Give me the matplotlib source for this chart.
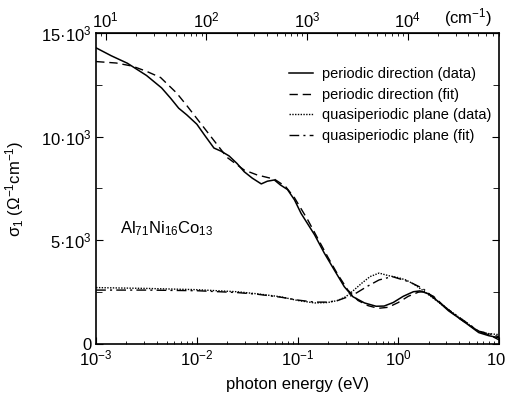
"""Optische Leitfähigkeit von Al71Ni16Co13 (periodisch / quasiperiodisch)."""

import matplotlib.pyplot as plt
import numpy as np

plt.rcParams["font.family"] = ["Liberation Sans", "DejaVu Sans"]
plt.rcParams["mathtext.fontset"] = "custom"
plt.rcParams["mathtext.rm"] = "Liberation Sans"
plt.rcParams["mathtext.it"] = "Liberation Sans:italic"

EV_TO_CM = 8065.5

# periodic direction (data): log10(E/eV), sigma in 10^3 / Ohm cm
per_data_logE = [-3.0, -2.85, -2.69, -2.5, -2.35, -2.26, -2.18, -2.1, -2.0, -1.92,
                 -1.83, -1.76, -1.68, -1.6, -1.53, -1.45, -1.36, -1.3, -1.23, -1.17,
                 -1.1, -1.03, -0.965, -0.9, -0.83, -0.735, -0.635, -0.535, -0.45,
                 -0.335, -0.22, -0.14, -0.05, 0.05, 0.15, 0.215, 0.3, 0.4, 0.5,
                 0.63, 0.8, 0.9, 1.0]
per_data_sig = [14.28, 13.9, 13.54, 12.95, 12.35, 11.85, 11.37, 11.05, 10.6, 10.05,
                9.45, 9.3, 9.07, 8.7, 8.31, 8.0, 7.72, 7.85, 7.91, 7.67,
                7.45, 6.95, 6.3, 5.8, 5.26, 4.39, 3.57, 2.76, 2.28,
                1.98, 1.82, 1.83, 2.0, 2.3, 2.52, 2.56, 2.42, 2.04, 1.6,
                1.16, 0.55, 0.4, 0.3]

# periodic direction (fit)
per_fit_logE = [-3.0, -2.8, -2.64, -2.5, -2.36, -2.2, -2.1, -1.98, -1.86, -1.7,
                -1.53, -1.4, -1.23, -1.12, -1.03, -0.9, -0.8, -0.7, -0.6, -0.5,
                -0.4, -0.3, -0.2, -0.1, 0.0, 0.1, 0.2, 0.25, 0.35, 0.45,
                0.6, 0.8, 0.9, 1.0]
per_fit_sig = [13.62, 13.55, 13.4, 13.15, 12.85, 12.1, 11.5, 10.75, 10.0, 9.0,
               8.39, 8.15, 7.95, 7.6, 7.05, 6.0, 5.1, 4.2, 3.35, 2.6,
               2.1, 1.85, 1.72, 1.77, 2.0, 2.3, 2.5, 2.52, 2.3, 1.85,
               1.25, 0.6, 0.45, 0.2]

# quasiperiodic plane (data)
qp_data_logE = [-3.0, -2.5, -2.0, -1.6, -1.4, -1.17, -1.0, -0.83, -0.7, -0.6,
                -0.52, -0.44, -0.36, -0.28, -0.19, -0.1, 0.0, 0.075, 0.15, 0.24,
                0.35, 0.5, 0.63, 0.8, 0.9, 1.0]
qp_data_sig = [2.72, 2.68, 2.62, 2.52, 2.42, 2.28, 2.1, 1.98, 2.0, 2.1,
               2.28, 2.6, 2.94, 3.25, 3.42, 3.3, 3.2, 3.09, 2.9, 2.6,
               2.2, 1.65, 1.2, 0.6, 0.5, 0.45]

# quasiperiodic plane (fit)
qp_fit_logE = [-3.0, -2.5, -2.0, -1.6, -1.4, -1.17, -1.0, -0.83, -0.7, -0.6,
               -0.45, -0.3, -0.19, -0.06, 0.11, 0.24, 0.35, 0.5, 0.63, 0.8,
               0.9, 1.0]
qp_fit_sig = [2.6, 2.6, 2.57, 2.48, 2.4, 2.26, 2.12, 2.02, 2.02, 2.1,
              2.36, 2.8, 3.09, 3.25, 3.0, 2.69, 2.25, 1.65, 1.2, 0.62,
              0.5, 0.35]

y_ticks = [0, 5000, 10000, 15000]
y_tick_labels = ["0", "5·10$^3$", "10·10$^3$", "15·10$^3$"]


def to_xy(logE, sig):
    """log10(E) und sigma (10^3) in Plotkoordinaten umrechnen."""
    return 10 ** np.array(logE), np.array(sig) * 1000


fig = plt.figure(figsize=(5.06, 3.97), dpi=100)
ax = fig.add_axes([0.19, 0.1335, 0.796, 0.7835])

x, y = to_xy(per_data_logE, per_data_sig)
ax.plot(x, y, color="k", lw=1.1, ls="-", label="periodic direction (data)")
x, y = to_xy(per_fit_logE, per_fit_sig)
ax.plot(x, y, color="k", lw=1.0, ls=(0, (6, 3.5)), label="periodic direction (fit)")
x, y = to_xy(qp_data_logE, qp_data_sig)
ax.plot(x, y, color="k", lw=1.0, ls=(0, (1, 1)), label="quasiperiodic plane (data)")
x, y = to_xy(qp_fit_logE, qp_fit_sig)
ax.plot(x, y, color="k", lw=1.0, ls=(0, (7, 3, 1.5, 3)), label="quasiperiodic plane (fit)")

ax.set_xscale("log")
ax.set_xlim(1e-3, 1e1)
ax.set_ylim(0, 15000)
ax.set_yticks(y_ticks)
ax.set_yticklabels(y_tick_labels, fontsize=12)
ax.set_yticks([2500, 7500, 12500], minor=True)
ax.tick_params(axis="both", which="both", direction="in", right=True)
ax.tick_params(axis="x", which="major", labelsize=12, length=5)
ax.tick_params(axis="x", which="minor", length=2.5)
ax.tick_params(axis="y", which="major", length=5)
ax.tick_params(axis="y", which="minor", length=4)
for sp in ax.spines.values():
    sp.set_linewidth(1.2)

ax.set_xlabel("photon energy (eV)", fontsize=12, labelpad=6)
ax.set_ylabel("σ$_1$ (Ω$^{-1}$cm$^{-1}$)", fontsize=12)
ax.yaxis.set_label_coords(-0.175, 0.5)

top = ax.secondary_xaxis("top", functions=(lambda e: e * EV_TO_CM,
                                           lambda k: k / EV_TO_CM))
top.tick_params(axis="x", which="both", direction="in", labelsize=12, pad=2)
top.tick_params(axis="x", which="major", length=5)
top.tick_params(axis="x", which="minor", length=2.5)
fig.text(0.925, 0.955, "(cm$^{-1}$)", fontsize=12, ha="center", va="center")

ax.text(0.06, 0.37, "Al$_{71}$Ni$_{16}$Co$_{13}$", transform=ax.transAxes,
        fontsize=12, ha="left", va="center")

ax.legend(loc="upper left", bbox_to_anchor=(0.48, 0.89), frameon=False,
          borderpad=0, borderaxespad=0, fontsize=10.5, handlelength=1.6,
          handletextpad=0.6, labelspacing=0.45)

fig.savefig("out.png", dpi=100)
